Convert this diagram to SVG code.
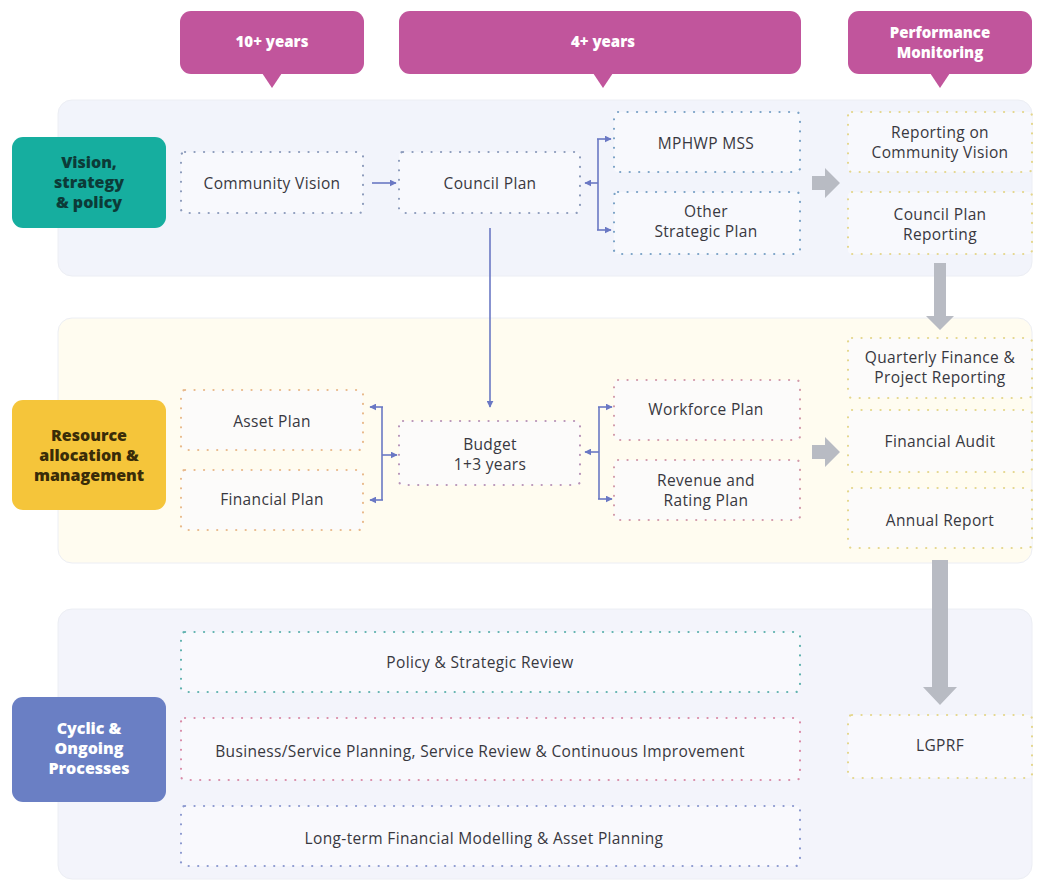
<svg xmlns="http://www.w3.org/2000/svg" width="1045" height="885" viewBox="0 0 1045 885">
<defs>
<style>
.band{stroke:#eceef4;stroke-width:1}
.tab{fill:#c1559c}
.tabt{font-family:"Open Sans","Lato",sans-serif;font-weight:800;font-size:15px;fill:#ffffff;text-anchor:middle}
.lab{font-family:"Open Sans","Lato",sans-serif;font-weight:800;font-size:16px;text-anchor:middle}
.box{fill:#fbfbfe;fill-opacity:0.7;stroke-width:2.2;stroke-dasharray:0.1 9.4;stroke-linecap:round}
.t{font-family:"Open Sans","Lato",sans-serif;font-size:15.5px;letter-spacing:0.35px;fill:#38383f;text-anchor:middle}
.conn{stroke:#6a78c4;stroke-width:1.6;fill:none}
.big{fill:#b8bbc3}
</style>
<marker id="ah" viewBox="0 0 10 10" refX="9" refY="5" markerWidth="7" markerHeight="7" orient="auto" markerUnits="userSpaceOnUse">
<path d="M0,0 L10,5 L0,10 z" fill="#6a78c4"/>
</marker>
</defs>
<rect width="1045" height="885" fill="#ffffff"/>

<!-- bands -->
<g id="bands">
<rect class="band" x="58" y="100" width="974" height="176" rx="14" fill="#f2f4fb"/>
<rect class="band" x="58" y="318" width="974" height="245" rx="14" fill="#fffcf0"/>
<rect class="band" x="58" y="609" width="974" height="270" rx="14" fill="#f3f4fb"/>
</g>

<!-- header tabs -->
<g id="tab-10years">
<rect class="tab" x="180" y="11" width="184" height="63" rx="11"/>
<path class="tab" d="M262,73 L272,88 L282,73 z"/>
<text class="tabt" x="272" y="47">10+ years</text>
</g>
<g id="tab-4years">
<rect class="tab" x="399" y="11" width="402" height="63" rx="11"/>
<path class="tab" d="M593,73 L603,88 L613,73 z"/>
<text class="tabt" x="603" y="47">4+ years</text>
</g>
<g id="tab-performance">
<rect class="tab" x="848" y="11" width="184" height="63" rx="11"/>
<path class="tab" d="M930,73 L940,88 L950,73 z"/>
<text class="tabt" x="940" y="38">Performance</text>
<text class="tabt" x="940" y="58">Monitoring</text>
</g>

<!-- row labels -->
<g id="label-vision">
<rect x="12" y="137" width="154" height="91" rx="11" fill="#16ae9f"/>
<text class="lab" fill="#0c3b38" x="89" y="168">Vision,</text>
<text class="lab" fill="#0c3b38" x="89" y="188">strategy</text>
<text class="lab" fill="#0c3b38" x="89" y="208">&amp; policy</text>
</g>
<g id="label-resource">
<rect x="12" y="400" width="154" height="110" rx="11" fill="#f5c53a"/>
<text class="lab" fill="#3a2c08" x="89" y="441">Resource</text>
<text class="lab" fill="#3a2c08" x="89" y="461">allocation &amp;</text>
<text class="lab" fill="#3a2c08" x="89" y="481">management</text>
</g>
<g id="label-cyclic">
<rect x="12" y="697" width="154" height="105" rx="11" fill="#6a7fc4"/>
<text class="lab" fill="#ffffff" x="89" y="734">Cyclic &amp;</text>
<text class="lab" fill="#ffffff" x="89" y="754">Ongoing</text>
<text class="lab" fill="#ffffff" x="89" y="774">Processes</text>
</g>

<!-- band 1 nodes -->
<g id="community-vision">
<rect class="box" stroke="#8c9bbb" x="181" y="152" width="182" height="61" rx="4"/>
<text class="t" x="272" y="189">Community Vision</text>
</g>
<g id="council-plan">
<rect class="box" stroke="#8c9bbb" x="399" y="152" width="181" height="61" rx="4"/>
<text class="t" x="490" y="189">Council Plan</text>
</g>
<g id="mphwp-mss">
<rect class="box" stroke="#7aa2c6" x="614" y="112" width="186" height="60" rx="4"/>
<text class="t" x="706" y="149">MPHWP MSS</text>
</g>
<g id="other-strategic-plan">
<rect class="box" stroke="#7aa2c6" x="614" y="192" width="186" height="62" rx="4"/>
<text class="t" x="706" y="217">Other</text>
<text class="t" x="706" y="237">Strategic Plan</text>
</g>
<g id="reporting-community-vision">
<rect class="box" stroke="#e4d68c" x="848" y="112" width="184" height="60" rx="4"/>
<text class="t" x="940" y="138">Reporting on</text>
<text class="t" x="940" y="158">Community Vision</text>
</g>
<g id="council-plan-reporting">
<rect class="box" stroke="#e4d68c" x="848" y="192" width="184" height="62" rx="4"/>
<text class="t" x="940" y="220">Council Plan</text>
<text class="t" x="940" y="240">Reporting</text>
</g>

<!-- band 2 nodes -->
<g id="asset-plan">
<rect class="box" stroke="#e8b98c" x="181" y="390" width="182" height="60" rx="4"/>
<text class="t" x="272" y="427">Asset Plan</text>
</g>
<g id="financial-plan">
<rect class="box" stroke="#e8b98c" x="181" y="470" width="182" height="60" rx="4"/>
<text class="t" x="272" y="505">Financial Plan</text>
</g>
<g id="budget">
<rect class="box" stroke="#b894b8" x="399" y="421" width="181" height="64" rx="4"/>
<text class="t" x="490" y="450">Budget</text>
<text class="t" x="490" y="470">1+3 years</text>
</g>
<g id="workforce-plan">
<rect class="box" stroke="#d29aaa" x="614" y="380" width="186" height="60" rx="4"/>
<text class="t" x="706" y="415">Workforce Plan</text>
</g>
<g id="revenue-rating-plan">
<rect class="box" stroke="#d29aaa" x="614" y="460" width="186" height="60" rx="4"/>
<text class="t" x="706" y="486">Revenue and</text>
<text class="t" x="706" y="506">Rating Plan</text>
</g>
<g id="quarterly-finance">
<rect class="box" stroke="#e4d68c" x="848" y="338" width="184" height="60" rx="4"/>
<text class="t" x="940" y="363">Quarterly Finance &amp;</text>
<text class="t" x="940" y="383">Project Reporting</text>
</g>
<g id="financial-audit">
<rect class="box" stroke="#e4d68c" x="848" y="410" width="184" height="62" rx="4"/>
<text class="t" x="940" y="447">Financial Audit</text>
</g>
<g id="annual-report">
<rect class="box" stroke="#e4d68c" x="848" y="488" width="184" height="60" rx="4"/>
<text class="t" x="940" y="526">Annual Report</text>
</g>

<!-- band 3 nodes -->
<g id="policy-review">
<rect class="box" stroke="#5fb2ae" x="181" y="632" width="619" height="60" rx="4"/>
<text class="t" x="480" y="668">Policy &amp; Strategic Review</text>
</g>
<g id="business-planning">
<rect class="box" stroke="#d98ca8" x="181" y="718" width="619" height="62" rx="4"/>
<text class="t" x="480" y="757">Business/Service Planning, Service Review &amp; Continuous Improvement</text>
</g>
<g id="longterm-modelling">
<rect class="box" stroke="#8b98cf" x="181" y="806" width="619" height="60" rx="4"/>
<text class="t" x="484" y="844">Long-term Financial Modelling &amp; Asset Planning</text>
</g>
<g id="lgprf">
<rect class="box" stroke="#e4d68c" x="848" y="715" width="184" height="63" rx="4"/>
<text class="t" x="940" y="751">LGPRF</text>
</g>

<!-- connectors -->
<g id="connectors">
<line class="conn" x1="372" y1="183" x2="396" y2="183" marker-end="url(#ah)"/>
<line class="conn" x1="598" y1="139" x2="598" y2="230"/>
<line class="conn" x1="598" y1="183" x2="585" y2="183" marker-end="url(#ah)"/>
<line class="conn" x1="597" y1="139" x2="611" y2="139" marker-end="url(#ah)"/>
<line class="conn" x1="597" y1="230" x2="611" y2="230" marker-end="url(#ah)"/>
<line class="conn" x1="490" y1="228" x2="490" y2="407" marker-end="url(#ah)"/>
<line class="conn" x1="382" y1="407" x2="382" y2="500"/>
<line class="conn" x1="383" y1="407" x2="370" y2="407" marker-end="url(#ah)"/>
<line class="conn" x1="383" y1="500" x2="370" y2="500" marker-end="url(#ah)"/>
<line class="conn" x1="382" y1="455" x2="397" y2="455" marker-end="url(#ah)"/>
<line class="conn" x1="599" y1="407" x2="599" y2="499"/>
<line class="conn" x1="599" y1="452" x2="585" y2="452" marker-end="url(#ah)"/>
<line class="conn" x1="598" y1="407" x2="612" y2="407" marker-end="url(#ah)"/>
<line class="conn" x1="598" y1="499" x2="612" y2="499" marker-end="url(#ah)"/>
<path class="big" d="M812,176 L825,176 L825,168 L840,183 L825,198 L825,190 L812,190 z"/>
<path class="big" d="M812,445 L825,445 L825,437 L840,452 L825,467 L825,459 L812,459 z"/>
<path class="big" d="M934,263 L946,263 L946,316 L954,316 L940,330 L926,316 L934,316 z"/>
<path class="big" d="M932,560 L948,560 L948,687 L957,687 L940,705 L923,687 L932,687 z"/>
</g>
</svg>
